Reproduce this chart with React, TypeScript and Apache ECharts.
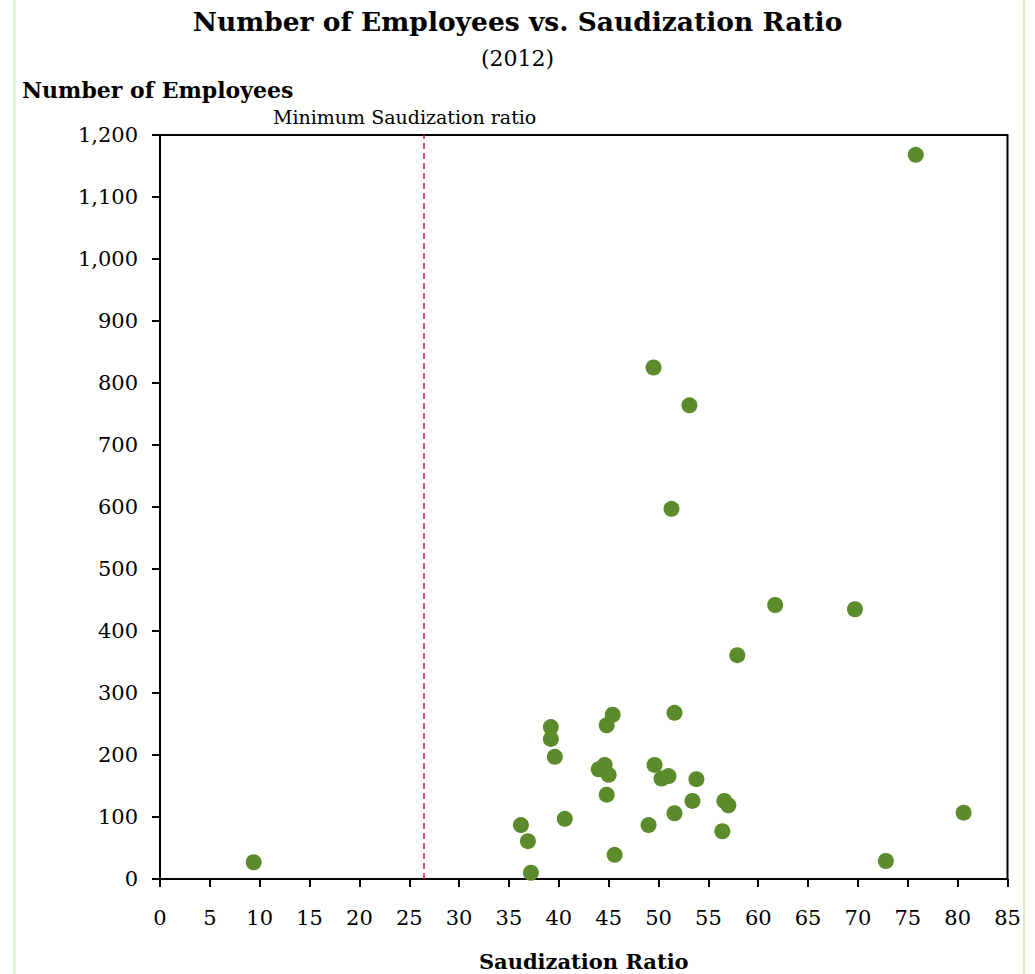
import React, { useEffect, useRef } from "react";
import * as echarts from "echarts";

const saudizationRatio = [
  9.4, 75.8, 49.5, 53.1, 51.3, 61.7, 69.7, 57.9, 45.4, 51.6, 39.2, 44.8, 39.2, 39.6,
  44.0, 44.6, 45.0, 49.6, 50.3, 51.0, 53.8, 44.8, 53.4, 56.6, 57.0, 51.6, 36.2, 40.6,
  49.0, 56.4, 36.9, 45.6, 37.2, 72.8, 80.6,
];
const employees = [
  27, 1168, 825, 764, 597, 442, 435, 361, 265, 268, 245, 248, 226, 197,
  177, 184, 168, 184, 162, 166, 161, 136, 126, 126, 119, 106, 87, 97,
  87, 77, 61, 39, 10, 29, 107,
];
const minimumSaudization = 26.5;

const titleText = "Number of Employees vs. Saudization Ratio";
const subtitleText = "(2012)";
const yAxisTitle = "Number of Employees";
const xAxisTitle = "Saudization Ratio";
const markerLabel = "Minimum Saudization ratio";

export default function App() {
  const ref = useRef<HTMLDivElement>(null);
  useEffect(() => {
    document.body.style.margin = "0";
    const chart = echarts.init(ref.current!, null, { renderer: "svg" });
    const font = "'DejaVu Serif', serif";
    const points = saudizationRatio.map((x, i) => [x, employees[i]]);
    chart.setOption({
      animation: false,
      backgroundColor: "#ffffff",
      textStyle: { fontFamily: font, color: "#000" },
      title: {
        text: titleText,
        subtext: subtitleText,
        left: "center",
        top: 2.5,
        itemGap: 11.5,
        textStyle: { fontFamily: font, fontSize: 26.5, lineHeight: 27, fontWeight: "bold", color: "#000" },
        subtextStyle: { fontFamily: font, fontSize: 22, lineHeight: 24, color: "#000" },
      },
      grid: {
        left: 160,
        top: 135,
        width: 847.5,
        height: 744,
        show: true,
        borderColor: "#000",
        borderWidth: 2,
        backgroundColor: "transparent",
        containLabel: false,
        outerBoundsMode: "none",
      },
      xAxis: {
        type: "value",
        min: 0,
        max: 85,
        interval: 5,
        name: xAxisTitle,
        nameLocation: "middle",
        nameGap: 72,
        nameTextStyle: { fontFamily: font, fontSize: 21, fontWeight: "bold", color: "#000" },
        axisLine: { show: true, onZero: false, lineStyle: { color: "#000", width: 2 } },
        axisTick: { show: true, length: 8, lineStyle: { color: "#000", width: 2 } },
        axisLabel: { fontFamily: font, fontSize: 21, color: "#000", margin: 28 },
        splitLine: { show: false },
      },
      yAxis: {
        type: "value",
        min: 0,
        max: 1200,
        interval: 100,
        axisLine: { show: true, onZero: false, lineStyle: { color: "#000", width: 2 } },
        axisTick: { show: true, length: 8, lineStyle: { color: "#000", width: 2 } },
        axisLabel: {
          fontFamily: font,
          fontSize: 21,
          color: "#000",
          margin: 22,
          formatter: (v: number) => v.toLocaleString("en-US"),
        },
        splitLine: { show: false },
      },
      series: [
        {
          type: "scatter",
          data: points,
          symbol: "circle",
          symbolSize: 16,
          itemStyle: { color: "#5B8B2A", opacity: 1 },
          markLine: {
            silent: true,
            symbol: "none",
            label: { show: false },
            lineStyle: { color: "#E8174A", type: [6, 4], width: 1.5, opacity: 1 },
            data: [{ xAxis: minimumSaudization }],
          },
        },
      ],
      graphic: [
        {
          type: "line",
          shape: { x1: 14.5, y1: 0, x2: 14.5, y2: 974 },
          style: { stroke: "#DDEFBF", lineWidth: 2 },
        },
        {
          type: "line",
          shape: { x1: 1024, y1: 0, x2: 1024, y2: 974 },
          style: { stroke: "#DDEFBF", lineWidth: 2 },
        },
        {
          type: "text",
          left: 22,
          top: 78.5,
          style: { text: yAxisTitle, fontFamily: font, fontSize: 22, fontWeight: "bold", fill: "#000" },
        },
        {
          type: "text",
          left: 273,
          top: 107,
          style: { text: markerLabel, fontFamily: font, fontSize: 19, fill: "#000" },
        },
      ],
    });
    return () => chart.dispose();
  }, []);
  return <div ref={ref} style={{ width: 1035, height: 974 }} />;
}
